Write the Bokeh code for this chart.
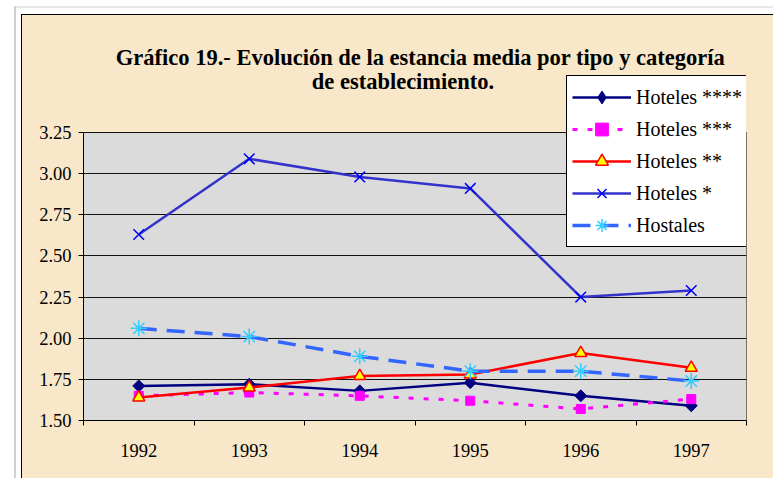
from bokeh.plotting import figure
from bokeh.models import (Range1d, FixedTicker, PrintfTickFormatter, Label,
                          Legend, LegendItem)
from bokeh.embed import file_html
from bokeh.resources import INLINE

# ---- data ----
years = [1992, 1993, 1994, 1995, 1996, 1997]
hoteles4 = [1.71, 1.72, 1.68, 1.73, 1.65, 1.59]
hoteles3 = [1.65, 1.67, 1.65, 1.62, 1.57, 1.63]
hoteles2 = [1.64, 1.70, 1.77, 1.78, 1.91, 1.82]
hoteles1 = [2.63, 3.09, 2.98, 2.91, 2.25, 2.29]
hostales = [2.06, 2.01, 1.89, 1.80, 1.80, 1.74]
y_ticks = [1.50, 1.75, 2.00, 2.25, 2.50, 2.75, 3.00, 3.25]
series_names = ["Hoteles ****", "Hoteles ***", "Hoteles **", "Hoteles *", "Hostales"]
title_1 = "Gráfico 19.- Evolución de la estancia media por tipo y categoría"
title_2 = "de establecimiento."

FONT = "'Liberation Serif', 'Times New Roman', serif"
BEIGE = "#F8E8C9"
GRAY = "#DBDBDB"

# layout (page pixels)
FRAME_L, FRAME_R, FRAME_T, FRAME_B = 83, 746, 15, 420
PLOT_TOP_PX = 132
px_per_unit = (FRAME_B - PLOT_TOP_PX) / (y_ticks[-1] - y_ticks[0])
y_top = y_ticks[-1] + (PLOT_TOP_PX - FRAME_T) / px_per_unit
px_per_year = (FRAME_R - FRAME_L) / len(years)

p = figure(width=773, height=478, output_backend="svg", toolbar_location=None,
           x_range=Range1d(years[0] - 0.5, years[-1] + 0.5),
           y_range=Range1d(y_ticks[0], y_top),
           min_border_left=FRAME_L, min_border_right=773 - FRAME_R,
           min_border_top=FRAME_T, min_border_bottom=478 - FRAME_B)
p.border_fill_alpha = 0
p.background_fill_alpha = 0
p.outline_line_color = None


def solid(c):
    return f"linear-gradient({c}, {c})"


p.styles = {
    "background": ", ".join([
        solid("#000000") + " 21px 14px / 1px 100% no-repeat",
        solid("#000000") + " 21px 14px / 100% 1px no-repeat",
        solid("#cfcfcf") + " 14px 6px / 2px 100% no-repeat",
        solid("#e8e8e8") + " 14px 6px / 100% 2px no-repeat",
        solid("#ffffff") + " 0px 0px / 21px 100% no-repeat",
        solid("#ffffff") + " 0px 0px / 100% 14px no-repeat",
        BEIGE,
    ])
}

# gray plot area
p.quad(left=[years[0] - 0.5], right=[years[-1] + 0.5],
       bottom=[y_ticks[0]], top=[y_ticks[-1]],
       fill_color=GRAY, line_color="black", line_width=1, level="image")

# axes
p.xaxis.ticker = FixedTicker(ticks=years,
                             minor_ticks=[years[0] - 0.5 + i for i in range(len(years) + 1)])
p.xaxis.major_tick_line_color = None
p.xaxis.minor_tick_line_color = "black"
p.xaxis.minor_tick_out = 5
p.xaxis.minor_tick_in = 0
p.xaxis.major_label_standoff = 17
p.xaxis.axis_line_color = "black"

p.yaxis.ticker = FixedTicker(ticks=y_ticks, minor_ticks=[])
p.yaxis.bounds = (y_ticks[0], y_ticks[-1])
p.yaxis.formatter = PrintfTickFormatter(format="%.2f")
p.yaxis.major_tick_out = 5
p.yaxis.major_tick_in = 0
p.yaxis.minor_tick_line_color = None
p.yaxis.major_label_standoff = 7
p.yaxis.axis_line_color = "black"

for ax in (p.xaxis, p.yaxis):
    ax.major_label_text_font = FONT
    ax.major_label_text_font_size = "18.5px"
    ax.major_label_text_color = "black"

p.xgrid.grid_line_color = None
p.ygrid.ticker = FixedTicker(ticks=y_ticks)
p.ygrid.grid_line_color = "#111111"
p.ygrid.grid_line_width = 1

# series
l4 = p.line(years, hoteles4, line_color="#000080", line_width=2.5)
m4 = p.scatter(years, hoteles4, marker="square", angle=0.7854, size=8.5,
               fill_color="#000080", line_color="#000080")
m4_leg = p.scatter(years, hoteles4, marker="diamond", size=12,
                   fill_color="#000080", line_color="#000080", visible=False)

l3 = p.line(years, hoteles3, line_color="#FF00FF", line_width=3, line_dash="5 10")
m3 = p.scatter(years, hoteles3, marker="square", size=9,
               fill_color="#FF00FF", line_color="#FF00FF")

l2 = p.line(years, hoteles2, line_color="#FF0000", line_width=2.5)
m2 = p.scatter(years, hoteles2, marker="triangle", size=12,
               fill_color="#FFFF00", line_color="#FF0000", line_width=1.5)

l1 = p.line(years, hoteles1, line_color="#3333CC", line_width=2.5)
m1 = p.scatter(years, hoteles1, marker="x", size=15,
               line_color="#0000FF", line_width=1.5)

l0 = p.line(years, hostales, line_color="#3366FF", line_width=3.5, line_dash="18 10")
m0 = p.scatter(years, hostales, marker="asterisk", size=16,
               line_color="#33CCFF", line_width=1.5)

legend = Legend(items=[
    LegendItem(label=series_names[0], renderers=[l4, m4_leg]),
    LegendItem(label=series_names[1], renderers=[l3, m3]),
    LegendItem(label=series_names[2], renderers=[l2, m2]),
    LegendItem(label=series_names[3], renderers=[l1, m1]),
    LegendItem(label=series_names[4], renderers=[l0, m0]),
], location=(566 - FRAME_L, FRAME_B - 247))
legend.label_text_font = FONT
legend.label_text_font_size = "20px"
legend.label_text_color = "black"
legend.background_fill_color = "white"
legend.background_fill_alpha = 1
legend.border_line_color = "black"
legend.border_line_width = 1
legend.border_line_alpha = 1
legend.glyph_width = 59
legend.glyph_height = 32
legend.label_height = 32
legend.spacing = 0
legend.padding = 5
legend.margin = 0
legend.label_standoff = 5
p.add_layout(legend, "center")

# title
x0 = years[0] - 0.5
p.add_layout(Label(x=x0 + (420 - FRAME_L) / px_per_year,
                   y=y_ticks[0] + (FRAME_B - 56.7) / px_per_unit,
                   text=title_1, text_align="center",
                   text_baseline="alphabetic", text_font=FONT,
                   text_font_size="22.5px", text_font_style="bold", text_color="black"))
p.add_layout(Label(x=x0 + (402.5 - FRAME_L) / px_per_year,
                   y=y_ticks[0] + (FRAME_B - 81) / px_per_unit,
                   text=title_2, text_align="center",
                   text_baseline="alphabetic", text_font=FONT,
                   text_font_size="22.5px", text_font_style="bold", text_color="black"))

open("out.html", "w").write(file_html(p, INLINE))
